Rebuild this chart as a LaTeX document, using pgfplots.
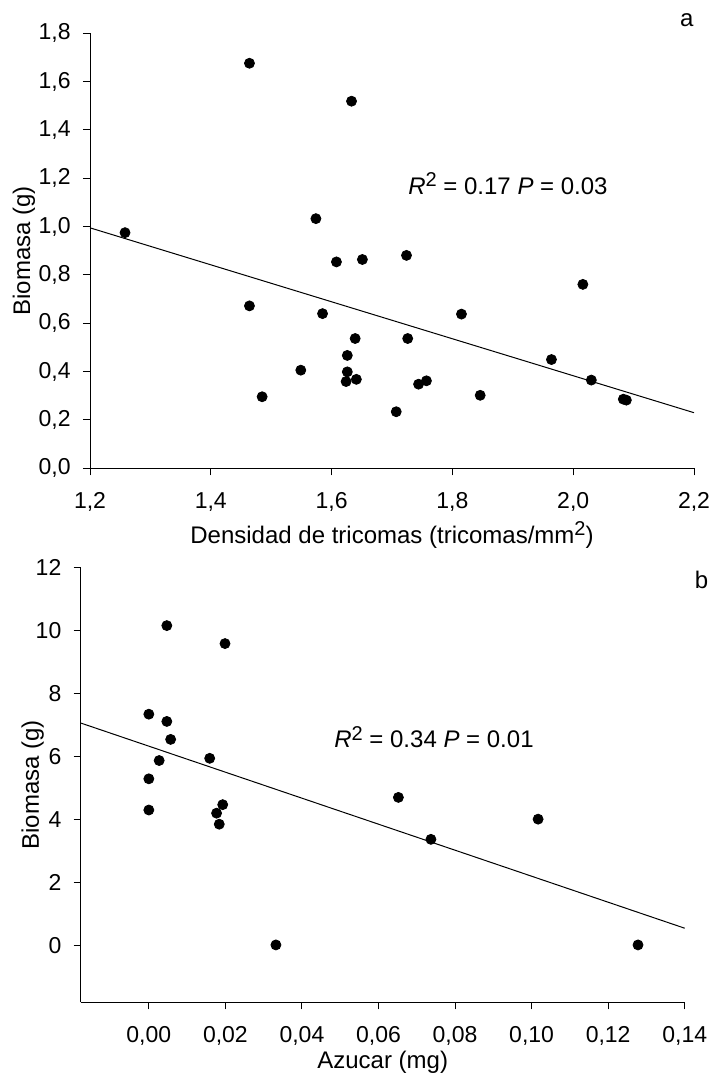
\documentclass[border=0pt]{standalone}
\usepackage{fontspec}
\setmainfont{Liberation Sans}
\usepackage{pgfplots}
\pgfplotsset{compat=1.18}
\newcommand{\sq}{\raisebox{0.6ex}{\fontsize{10}{12}\selectfont 2}}
\pgfplotsset{
  myax/.style={
    scale only axis, width=302pt, height=217.5pt,
    axis lines=left, axis line style={-, line width=0.5pt, black},
    tick align=outside, major tick length=3.5pt,
    tick style={line width=0.5pt, black},
    font=\fontsize{12}{14}\selectfont,
    tick label style={font=\fontsize{11.5}{13}\selectfont, inner sep=0pt},
    xticklabel style={anchor=base, yshift=-16.5pt},
    yticklabel style={anchor=east, xshift=-6pt},
    /pgf/number format/assume math mode=true,
    /pgf/number format/use comma,
    /pgf/number format/fixed,
    /pgf/number format/fixed zerofill,
    scaled ticks=false,
    clip=false,
    every axis plot/.append style={black},
  }
}
\begin{document}
\begin{tikzpicture}
\useasboundingbox (0pt,0pt) rectangle (356pt,537.5pt);
\begin{axis}[myax, at={(45pt,303.35pt)}, anchor=south west,
  xmin=1.2, xmax=2.2, ymin=0, ymax=1.8,
  xtick={1.2,1.4,1.6,1.8,2.0,2.2},
  ytick={0,0.2,0.4,0.6,0.8,1.0,1.2,1.4,1.6,1.8},
  /pgf/number format/precision=1,
  xlabel={Densidad de tricomas (tricomas/mm\sq)},
  ylabel={Biomasa (g)},
  xlabel style={at={(axis description cs:0.5,-0.1724)}, anchor=base},
  ylabel style={at={(axis description cs:-0.1093,0.5)}, anchor=center},
]
\addplot[only marks, mark=*, mark size=2.5pt] coordinates {
(1.464,1.676) (1.633,1.519) (1.258,0.975) (1.574,1.033) (1.608,0.854)
(1.651,0.864) (1.724,0.881) (2.016,0.761) (1.464,0.672) (1.585,0.640)
(1.639,0.537) (1.626,0.467) (1.549,0.406) (1.626,0.399) (1.624,0.359)
(1.641,0.368) (1.485,0.296) (1.815,0.638) (1.726,0.537) (1.964,0.450)
(1.744,0.348) (1.757,0.362) (1.846,0.302) (1.707,0.234) (2.030,0.365)
(2.083,0.286) (2.088,0.282)
};
\addplot[no marks, line width=0.5pt] coordinates {(1.2,0.995) (2.2,0.23)};
\node at (axis cs:1.892,1.179) {\textit{R}\sq{} = 0.17 \textit{P} = 0.03};
\node at (axis description cs:0.988,1.030) {a};
\end{axis}
\begin{axis}[myax, at={(40.35pt,36.35pt)}, anchor=south west,
  xmin=-0.0178, xmax=0.14, ymin=-1.8, ymax=12,
  xtick={0,0.02,0.04,0.06,0.08,0.10,0.12,0.14},
  ytick={0,2,4,6,8,10,12},
  xticklabel style={/pgf/number format/precision=2},
  yticklabel style={/pgf/number format/precision=0},
  xlabel={Azucar (mg)},
  ylabel={Biomasa (g)},
  xlabel style={at={(axis description cs:0.5,-0.1517)}, anchor=base},
  ylabel style={at={(axis description cs:-0.0794,0.5)}, anchor=center},
]
\addplot[only marks, mark=*, mark size=2.5pt] coordinates {
(0.0047,10.15) (0.0199,9.58) (0.0,7.34) (0.0047,7.11) (0.0057,6.54)
(0.0027,5.87) (0.0159,5.94) (0.0,5.29) (0.0,4.30) (0.0193,4.47)
(0.0177,4.20) (0.0184,3.85) (0.0332,0.02) (0.0652,4.70) (0.0737,3.37)
(0.1017,4.01) (0.1278,0.02)
};
\addplot[no marks, line width=0.5pt] coordinates {(-0.0178,7.06) (0.14,0.55)};
\node at (axis cs:0.0745,6.61) {\textit{R}\sq{} = 0.34 \textit{P} = 0.01};
\node at (axis description cs:1.028,0.971) {b};
\end{axis}
\end{tikzpicture}
\end{document}
